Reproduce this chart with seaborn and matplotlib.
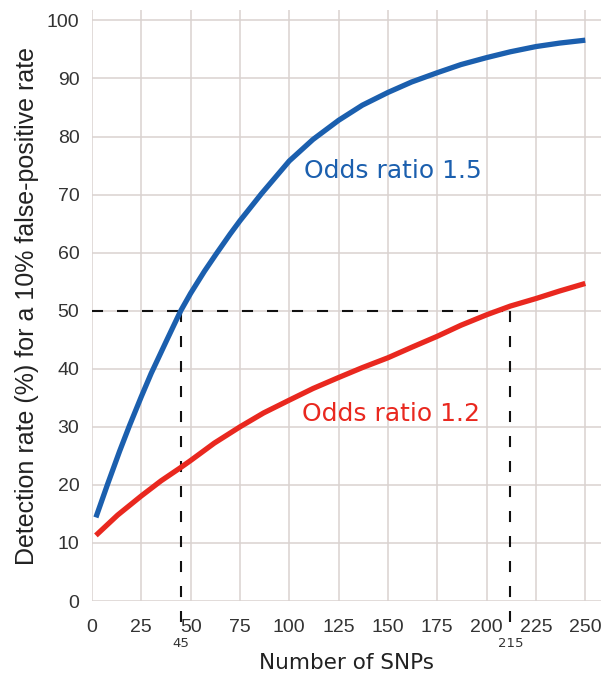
import matplotlib
matplotlib.use("Agg")
import matplotlib.pyplot as plt
import seaborn as sns
import pandas as pd

# ---- data ----
blue_snps = [2, 8, 14, 19, 25, 30, 38, 45, 50, 57, 63, 70, 75, 86, 100, 112, 125,
             137, 150, 162, 175, 187, 200, 212, 225, 237, 250]
blue_rate = [14.4, 20.2, 25.8, 30.2, 35.2, 39.2, 45.0, 50.0, 53.0, 56.8, 59.8, 63.2,
             65.5, 70.2, 75.8, 79.5, 82.8, 85.4, 87.6, 89.4, 91.0, 92.4, 93.6, 94.6,
             95.5, 96.1, 96.6]
red_snps = [2, 13, 25, 35, 45, 50, 62, 75, 87, 100, 112, 125, 137, 150, 162, 175,
            187, 200, 212, 225, 237, 250]
red_rate = [11.3, 14.8, 18.1, 20.7, 23.0, 24.2, 27.2, 30.0, 32.4, 34.6, 36.6, 38.5,
            40.2, 41.9, 43.7, 45.6, 47.5, 49.3, 50.8, 52.1, 53.4, 54.7]
series_names = ["Odds ratio 1.5", "Odds ratio 1.2"]
x_ticks = [0, 25, 50, 75, 100, 125, 150, 175, 200, 225, 250]
y_ticks = [0, 10, 20, 30, 40, 50, 60, 70, 80, 90, 100]
threshold = 50
marks = [45, 212]
mark_labels = ["45", "215"]

df = pd.concat([
    pd.DataFrame({"snps": blue_snps, "rate": blue_rate, "series": series_names[0]}),
    pd.DataFrame({"snps": red_snps, "rate": red_rate, "series": series_names[1]}),
])

BLUE = "#1b5fae"
RED = "#e9281f"
GRID = "#dad2d0"

sns.set_style("whitegrid", {"grid.color": GRID, "axes.edgecolor": GRID})
plt.rcParams["font.family"] = ["Liberation Sans", "DejaVu Sans"]

fig = plt.figure(figsize=(6.09, 6.75), dpi=100)
ax = fig.add_axes([0.151, 0.1096, 0.836, 0.8756])

sns.lineplot(data=df, x="snps", y="rate", hue="series",
             palette={series_names[0]: BLUE, series_names[1]: RED},
             linewidth=3.8, legend=False, ax=ax, zorder=3)
for line in ax.lines:
    line.set_solid_capstyle("butt")
    line.set_solid_joinstyle("round")

ax.set_xlim(0, 258)
ax.set_ylim(0, 101.8)
ax.set_xticks(x_ticks)
ax.set_yticks(y_ticks)
ax.grid(True, color=GRID, linewidth=1.1)
for s in ax.spines.values():
    s.set_visible(False)
ax.tick_params(axis="both", which="major", length=4, width=1.1, color=GRID,
               labelsize=14, labelcolor="#333333")
ax.tick_params(axis="x", pad=9)
ax.tick_params(axis="y", pad=5)

# dashed guide lines
dash = (0, (5.3, 6.7))
ax.plot([0, marks[1]], [threshold, threshold], color="#111111", lw=1.5,
        linestyle=dash, zorder=2)
for m in marks:
    ax.plot([m, m], [threshold, -3.6], color="#111111", lw=1.5,
            linestyle=dash, zorder=2, clip_on=False)
for m, lab in zip(marks, mark_labels):
    ax.text(m, -7.3, lab, ha="center", va="center", fontsize=9.5,
            color="#333333", family="DejaVu Sans")

ax.text(152.5, 74, series_names[0], color=BLUE, fontsize=18,
        ha="center", va="center", family="DejaVu Sans")
ax.text(151.5, 32.2, series_names[1], color=RED, fontsize=18,
        ha="center", va="center", family="DejaVu Sans")

ax.set_xlabel("Number of SNPs", fontsize=15.5, color="#222222",
              family="DejaVu Sans", labelpad=12)
ax.set_ylabel("Detection rate (%) for a 10% false-positive rate", fontsize=18,
              color="#222222", labelpad=6)

fig.savefig("out.png", dpi=100)
